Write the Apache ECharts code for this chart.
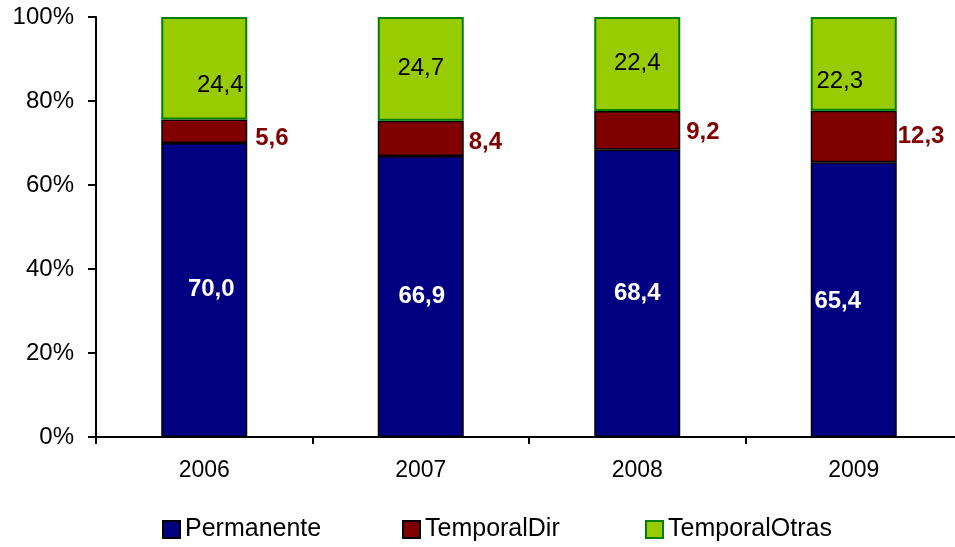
<!DOCTYPE html>
<html>
<head>
<meta charset="utf-8">
<script src="https://cdn.jsdelivr.net/npm/echarts@6/dist/echarts.min.js"></script>
<style>
  html, body { margin: 0; padding: 0; background: #fff; overflow: hidden; }
  /* plot runs a few px past the right edge, as in the original */
  #chart { width: 962px; height: 547px; }
</style>
</head>
<body>
<div id="chart"></div>
<script>
var years = ['2006', '2007', '2008', '2009'];
var permanente = [70.0, 66.9, 68.4, 65.4];
var temporalDir = [5.6, 8.4, 9.2, 12.3];
var temporalOtras = [24.4, 24.7, 22.4, 22.3];
var yTicks = [0, 20, 40, 60, 80, 100];

// label nudges so they sit where the original puts them
var permOffsets = [[7, -1], [1, 0], [0, 0], [-16, 2]];
var dirOffsets = [[3, 7], [0, 4], [1, 2], [-4, 0]];
var otrasOffsets = [[16, 17], [0, 0], [0, -1], [-14, 18]];

function fmt(v) {
  return v.toFixed(1).replace('.', ',');
}

function withOffsets(values, offsets) {
  return values.map(function (v, i) {
    return { value: v, label: { offset: offsets[i] } };
  });
}

var myChart = echarts.init(document.getElementById('chart'));
var font = 'Liberation Sans, Arial, sans-serif';

myChart.setOption({
  animation: false,
  textStyle: { fontFamily: font },
  grid: {
    left: 96,
    right: 0,
    top: 17,
    bottom: 110
  },
  legend: [
    { data: ['Permanente'], left: 157 },
    { data: ['TemporalDir'], left: 397 },
    { data: ['TemporalOtras'], left: 640 }
  ].map(function (l) {
    return Object.assign({
      top: 512,
      itemWidth: 17,
      itemHeight: 17,
      itemGap: 9,
      icon: 'rect',
      textStyle: { fontSize: 25, color: '#000', fontFamily: font }
    }, l);
  }),
  xAxis: {
    type: 'category',
    data: years,
    axisLine: { lineStyle: { color: '#000', width: 2 } },
    axisTick: { show: true, length: 7, lineStyle: { color: '#000', width: 2 } },
    axisLabel: { color: '#000', fontSize: 23, margin: 22, fontFamily: font }
  },
  yAxis: {
    type: 'value',
    min: 0,
    max: 100,
    interval: 20,
    axisLine: { show: true, lineStyle: { color: '#000', width: 2 } },
    axisTick: { show: true, length: 8, lineStyle: { color: '#000', width: 2 } },
    axisLabel: {
      color: '#000',
      fontSize: 24,
      margin: 22,
      fontFamily: font,
      formatter: function (v) {
        return yTicks.indexOf(v) >= 0 ? v + '%' : '';
      }
    },
    splitLine: { show: false }
  },
  series: [
    {
      name: 'Permanente',
      type: 'bar',
      stack: 'total',
      barWidth: 86,
      data: withOffsets(permanente, permOffsets),
      itemStyle: { color: '#000080', borderColor: '#000', borderWidth: 1.5 },
      label: {
        show: true,
        position: 'inside',
        color: '#fff',
        fontWeight: 'bold',
        fontSize: 24,
        fontFamily: font,
        formatter: function (p) { return fmt(p.value); }
      }
    },
    {
      name: 'TemporalDir',
      type: 'bar',
      stack: 'total',
      data: withOffsets(temporalDir, dirOffsets),
      itemStyle: { color: '#800000', borderColor: '#000', borderWidth: 1.5 },
      label: {
        show: true,
        position: 'right',
        distance: 5,
        color: '#800000',
        fontWeight: 'bold',
        fontSize: 24,
        fontFamily: font,
        formatter: function (p) { return fmt(p.value); }
      }
    },
    {
      name: 'TemporalOtras',
      type: 'bar',
      stack: 'total',
      data: withOffsets(temporalOtras, otrasOffsets),
      itemStyle: { color: '#99CC00', borderColor: '#008000', borderWidth: 2 },
      label: {
        show: true,
        position: 'inside',
        color: '#000',
        fontSize: 24,
        fontFamily: font,
        formatter: function (p) { return fmt(p.value); }
      }
    }
  ]
});

window.addEventListener('resize', function () {
  myChart.resize();
});
</script>
</body>
</html>
